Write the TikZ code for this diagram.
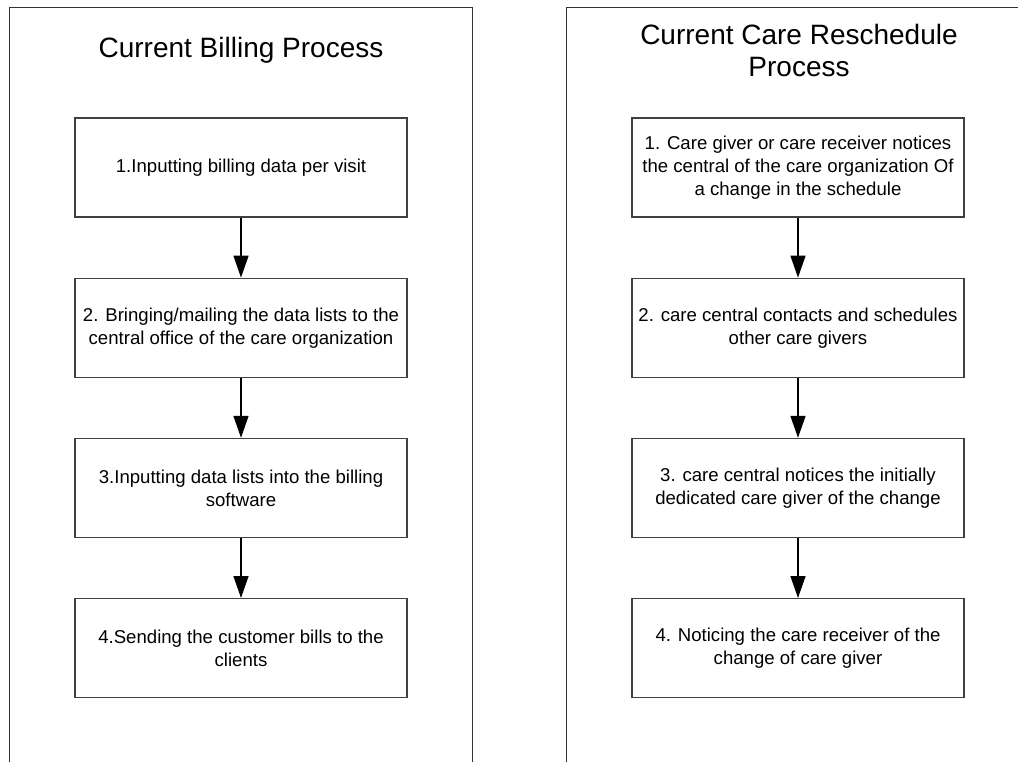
\documentclass[tikz,border=0pt]{standalone}
\usepackage{fontspec}
\setmainfont{Liberation Sans}
\usetikzlibrary{positioning, arrows.meta}

\tikzset{
  procbox/.style={draw=black!75, line width=1.2pt, minimum width=332pt,
    minimum height=99pt, align=center, font=\fontsize{18.6}{23}\selectfont,
    inner sep=2pt},
  flow/.style={-{Triangle[length=22pt,width=15pt]}, line width=1.5pt},
  lane/.style={draw=black!80, line width=1pt},
  lanetitle/.style={font=\fontsize{28}{32}\selectfont, align=center}
}

\begin{document}
\begin{tikzpicture}[x=1pt,y=1pt]
\useasboundingbox (0,0) rectangle (1018,-761);
% lanes
\draw[lane] (9.5,-770) |- (472.5,-7.5) -- (472.5,-770);
\draw[lane] (566.5,-770) |- (1030,-7.5);
% titles
\node[lanetitle] (t1) at (241,-50) {Current Billing Process};
\node[lanetitle] (t2) at (799,-50) {Current Care Reschedule\\Process};
% billing
\node[procbox] (b1) at (241,-167.5) {1.Inputting billing data per visit};
\node[procbox, below=60pt of b1] (b2) {2. Bringing/mailing the data lists to the\\central office of the care organization};
\node[procbox, below=60pt of b2] (b3) {3.Inputting data lists into the billing\\software};
\node[procbox, below=60pt of b3] (b4) {4.Sending the customer bills to the\\clients};
% reschedule
\node[procbox] (r1) at (798,-167.5) {1. Care giver or care receiver notices\\the central of the care organization Of\\a change in the schedule};
\node[procbox, below=60pt of r1] (r2) {2. care central contacts and schedules\\other care givers};
\node[procbox, below=60pt of r2] (r3) {3. care central notices the initially\\dedicated care giver of the change};
\node[procbox, below=60pt of r3] (r4) {4. Noticing the care receiver of the\\change of care giver};
\foreach \a/\b in {b1/b2, b2/b3, b3/b4, r1/r2, r2/r3, r3/r4}
  \draw[flow] (\a) -- (\b);
\end{tikzpicture}
\end{document}
